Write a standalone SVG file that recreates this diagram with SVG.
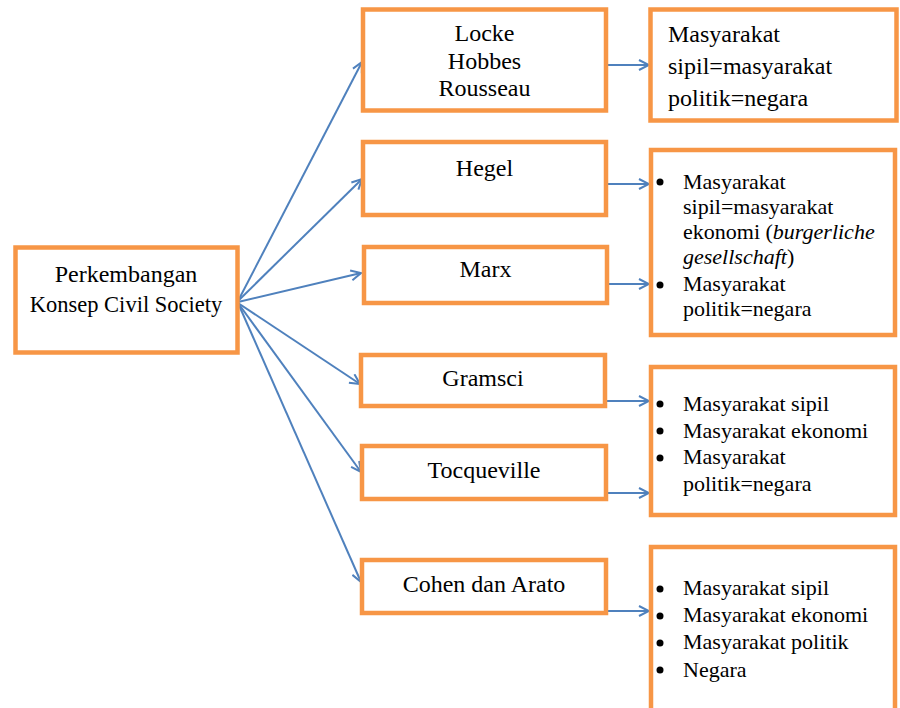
<svg xmlns="http://www.w3.org/2000/svg" width="900" height="708" viewBox="0 0 900 708">
<style>
.box{fill:#fff;stroke:#f79646;stroke-width:4.5}
.t{font-size:24px;fill:#000}
.c{text-anchor:middle}
.s{font-size:22px}
.con{stroke:#4f81bd;stroke-width:2;fill:none;marker-end:url(#ah)}
.b{fill:#000}
</style>
<defs>
<marker id="ah" viewBox="0 0 12 12" refX="11" refY="6" markerWidth="12" markerHeight="12" markerUnits="userSpaceOnUse" orient="auto">
<path d="M1,1 L11,6 L1,11" fill="none" stroke="#4f81bd" stroke-width="2"/>
</marker>
</defs>
<rect x="0" y="0" width="900" height="708" fill="#fff"/>
<g id="connectors">
<line class="con" x1="238" y1="301" x2="362" y2="62"/>
<line class="con" x1="238" y1="301" x2="362" y2="179"/>
<line class="con" x1="238" y1="302" x2="361" y2="273"/>
<line class="con" x1="238" y1="303" x2="360" y2="384"/>
<line class="con" x1="238" y1="303" x2="361" y2="472"/>
<line class="con" x1="238" y1="303" x2="361" y2="582"/>
<line class="con" x1="607" y1="65" x2="649" y2="65"/>
<line class="con" x1="607" y1="184" x2="649" y2="184"/>
<line class="con" x1="607" y1="284" x2="649" y2="284"/>
<line class="con" x1="607" y1="401" x2="649" y2="401"/>
<line class="con" x1="607" y1="493" x2="649" y2="493"/>
<line class="con" x1="607" y1="611" x2="649" y2="611"/>
</g>
<g font-family="'Liberation Serif', Tinos, 'Times New Roman', 'DejaVu Serif', serif">
<g id="root">
<rect class="box" x="15.5" y="247.5" width="222" height="105"/>
<text class="t c" x="126" y="282">Perkembangan</text>
<text class="t c" x="126" y="312" style="font-size:22.5px">Konsep Civil Society</text>
</g>
<g id="locke">
<rect class="box" x="363" y="9.5" width="243" height="101"/>
<text class="t c" x="484.5" y="41">Locke</text>
<text class="t c" x="484.5" y="69">Hobbes</text>
<text class="t c" x="484.5" y="96">Rousseau</text>
</g>
<g id="hegel">
<rect class="box" x="363" y="142" width="243" height="73"/>
<text class="t c" x="484.5" y="176">Hegel</text>
</g>
<g id="marx">
<rect class="box" x="364" y="247" width="243" height="56"/>
<text class="t c" x="485.5" y="277">Marx</text>
</g>
<g id="gramsci">
<rect class="box" x="361" y="355" width="244" height="51"/>
<text class="t c" x="483" y="386">Gramsci</text>
</g>
<g id="tocqueville">
<rect class="box" x="362" y="446" width="244" height="53"/>
<text class="t c" x="484" y="478">Tocqueville</text>
</g>
<g id="cohen">
<rect class="box" x="362" y="560" width="244" height="53"/>
<text class="t c" x="484" y="592">Cohen dan Arato</text>
</g>
<g id="result1">
<rect class="box" x="650.5" y="9.5" width="246" height="111"/>
<text class="t" x="668" y="42">Masyarakat</text>
<text class="t" x="668" y="74">sipil=masyarakat</text>
<text class="t" x="668" y="106">politik=negara</text>
</g>
<g id="result2">
<rect class="box" x="651" y="150" width="244" height="185"/>
<circle class="b" cx="660" cy="182" r="3.5"/>
<circle class="b" cx="660" cy="285" r="3.5"/>
<text class="t s" x="683" y="189">Masyarakat</text>
<text class="t s" x="683" y="214">sipil=masyarakat</text>
<text class="t s" x="683" y="239">ekonomi (<tspan font-style="italic">burgerliche</tspan></text>
<text class="t s" x="683" y="264"><tspan font-style="italic">gesellschaft</tspan>)</text>
<text class="t s" x="683" y="291">Masyarakat</text>
<text class="t s" x="683" y="316">politik=negara</text>
</g>
<g id="result3">
<rect class="box" x="651" y="367" width="244" height="148"/>
<circle class="b" cx="660" cy="404" r="3.5"/>
<circle class="b" cx="660" cy="431" r="3.5"/>
<circle class="b" cx="660" cy="458" r="3.5"/>
<text class="t s" x="683" y="411">Masyarakat sipil</text>
<text class="t s" x="683" y="438">Masyarakat ekonomi</text>
<text class="t s" x="683" y="464">Masyarakat</text>
<text class="t s" x="683" y="491">politik=negara</text>
</g>
<g id="result4">
<rect class="box" x="651" y="547" width="244" height="170"/>
<circle class="b" cx="660" cy="589" r="3.5"/>
<circle class="b" cx="660" cy="616" r="3.5"/>
<circle class="b" cx="660" cy="643" r="3.5"/>
<circle class="b" cx="660" cy="670" r="3.5"/>
<text class="t s" x="683" y="595">Masyarakat sipil</text>
<text class="t s" x="683" y="622">Masyarakat ekonomi</text>
<text class="t s" x="683" y="649">Masyarakat politik</text>
<text class="t s" x="683" y="677">Negara</text>
</g>
</g>
</svg>
